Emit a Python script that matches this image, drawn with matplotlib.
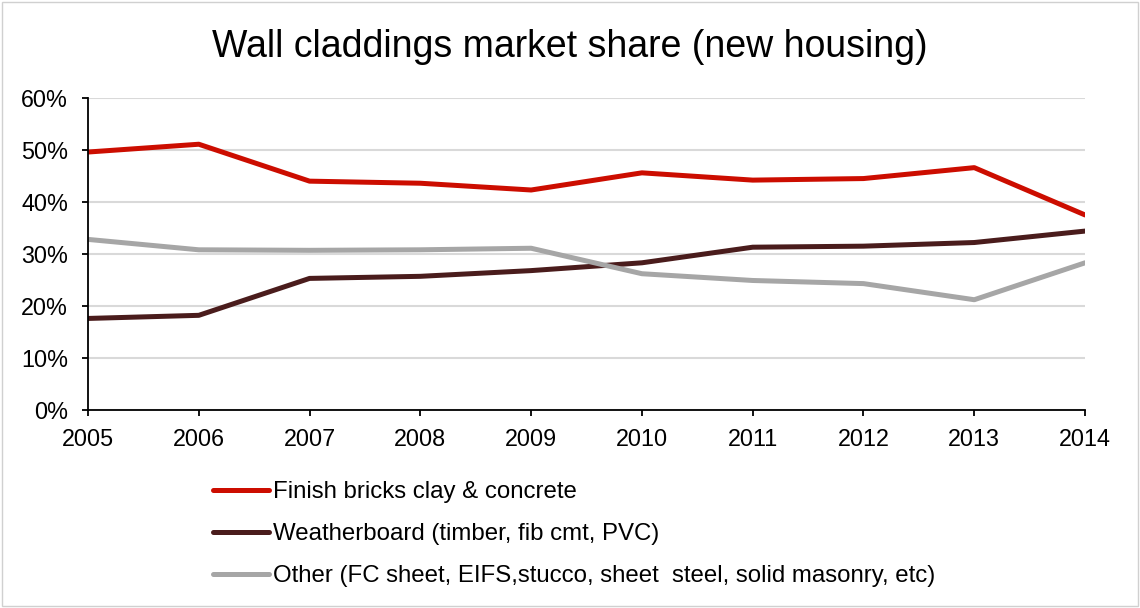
import matplotlib
matplotlib.use('Agg')
import matplotlib.pyplot as plt
from matplotlib.patches import Rectangle
from matplotlib.ticker import PercentFormatter

plt.rcParams['font.family'] = ['Liberation Sans', 'DejaVu Sans']

# data
years = [2005, 2006, 2007, 2008, 2009, 2010, 2011, 2012, 2013, 2014]
bricks = [49.6, 51.1, 44.0, 43.6, 42.3, 45.6, 44.2, 44.5, 46.6, 37.5]
weatherboard = [17.6, 18.2, 25.3, 25.7, 26.8, 28.3, 31.3, 31.5, 32.2, 34.4]
other = [32.8, 30.8, 30.7, 30.8, 31.1, 26.2, 24.9, 24.3, 21.2, 28.3]

labels = ['Finish bricks clay & concrete',
          'Weatherboard (timber, fib cmt, PVC)',
          'Other (FC sheet, EIFS,stucco, sheet  steel, solid masonry, etc)']
colors = ['#cc0d00', '#4a1c1c', '#a6a6a6']

fig = plt.figure(figsize=(11.4, 6.08), dpi=100)
ax = fig.add_axes([0.0772, 0.3257, 0.8746, 0.5132])

for vals, lab, col in zip([bricks, weatherboard, other], labels, colors):
    ax.plot(years, vals, color=col, linewidth=3.6, label=lab, solid_capstyle='round')

ax.set_xlim(2005, 2014)
ax.set_ylim(0, 60)
ax.set_xticks(years)
ax.set_yticks(range(0, 61, 10))
ax.yaxis.set_major_formatter(PercentFormatter(decimals=0))
ax.grid(axis='y', color='#d9d9d9', linewidth=1.5)
ax.set_axisbelow(True)
for s in ['top', 'right']:
    ax.spines[s].set_visible(False)
ax.spines['left'].set_linewidth(1.3)
ax.spines['bottom'].set_linewidth(1.3)
ax.tick_params(axis='both', labelsize=16.8, length=4.3, width=1.3, direction='out')
ax.tick_params(axis='y', pad=10)
ax.tick_params(axis='x', pad=9)

fig.text(0.5, 0.906, 'Wall claddings market share (new housing)', fontsize=27,
         ha='center', va='baseline')

leg = fig.legend(loc='upper left', bbox_to_anchor=(0.1868, 0.209), frameon=False,
                 fontsize=17.3, handlelength=2.33, handletextpad=0.16, labelspacing=0.84,
                 borderaxespad=0, borderpad=0)

fig.add_artist(Rectangle((0.002, 0.003), 0.996, 0.994, transform=fig.transFigure,
                         fill=False, edgecolor='#d0d0d0', linewidth=1))

fig.savefig('out.png', dpi=100)
